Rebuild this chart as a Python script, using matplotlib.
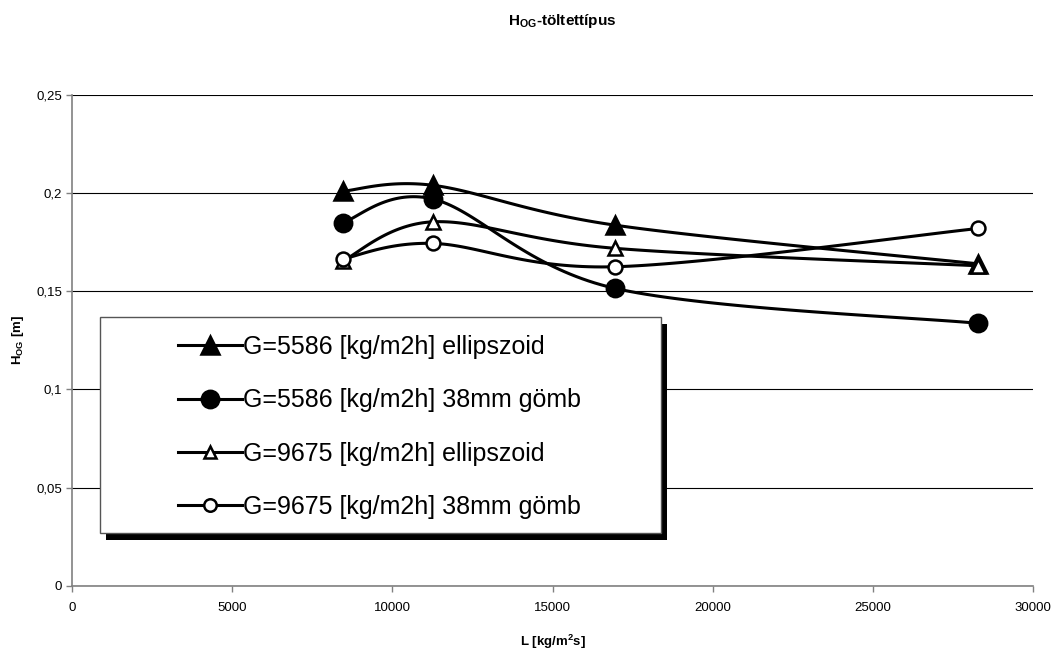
import numpy as np
import matplotlib
matplotlib.use('Agg')
import matplotlib.pyplot as plt
from matplotlib.patches import Rectangle

plt.rcParams['font.family'] = ['Liberation Sans', 'DejaVu Sans']
plt.rcParams['mathtext.fontset'] = 'custom'
plt.rcParams['mathtext.rm'] = 'Liberation Sans'
plt.rcParams['mathtext.bf'] = 'Liberation Sans:bold'

# ── data ─────────────────────────────────────────────────────────────────────
L_vals = [8450, 11270, 16950, 28280]
h_5586_ell = [0.201, 0.204, 0.1837, 0.164]
h_5586_gomb = [0.185, 0.197, 0.1515, 0.1337]
h_9675_ell = [0.1655, 0.1854, 0.1719, 0.163]
h_9675_gomb = [0.1665, 0.1744, 0.1625, 0.182]

labels = ['G=5586 [kg/m2h] ellipszoid', 'G=5586 [kg/m2h] 38mm gömb',
          'G=9675 [kg/m2h] ellipszoid', 'G=9675 [kg/m2h] 38mm gömb']
y_ticks = [0, 0.05, 0.1, 0.15, 0.2, 0.25]
y_ticklabels = ['0', '0,05', '0,1', '0,15', '0,2', '0,25']
x_ticks = [0, 5000, 10000, 15000, 20000, 25000, 30000]


def smooth(x, y, n=40):
    # Excel-style smoothed line (Catmull-Rom Bezier)
    p = np.column_stack([x, y]).astype(float)
    pts = np.vstack([p[0], p, p[-1]])
    out = []
    t = np.linspace(0, 1, n)[:, None]
    for i in range(1, len(pts) - 2):
        p0, p1, p2, p3 = pts[i - 1], pts[i], pts[i + 1], pts[i + 2]
        b1 = p1 + (p2 - p0) / 6
        b2 = p2 - (p3 - p1) / 6
        seg = ((1 - t) ** 3) * p1 + 3 * ((1 - t) ** 2) * t * b1 \
            + 3 * (1 - t) * t ** 2 * b2 + t ** 3 * p2
        out.append(seg if i == 1 else seg[1:])
    s = np.vstack(out)
    return s[:, 0], s[:, 1]


fig = plt.figure(figsize=(10.55, 6.49), dpi=100)
ax = fig.add_axes([0.06825, 0.0975, 0.9109, 0.7561])

series = [
    (h_5586_ell, '^', 'black'),
    (h_5586_gomb, 'o', 'black'),
    (h_9675_ell, '^', 'white'),
    (h_9675_gomb, 'o', 'white'),
]
handles = []
for (vals, mk, fc), lab in zip(series, labels):
    sx, sy = smooth(L_vals, vals)
    ax.plot(sx, sy, color='black', lw=2.2, zorder=3, solid_capstyle='round')
    ms = 12.5 if fc == 'black' else 10
    ax.plot(L_vals, vals, linestyle='none', marker=mk, markersize=ms,
            markerfacecolor=fc, markeredgecolor='black', markeredgewidth=1.8,
            zorder=4)
    h, = ax.plot([], [], color='black', lw=2.2, marker=mk,
                 markersize=ms if fc == 'black' else 9,
                 markerfacecolor=fc, markeredgecolor='black',
                 markeredgewidth=1.8, label=lab)
    handles.append(h)

ax.set_xlim(0, 30000)
ax.set_ylim(0, 0.25)
ax.set_xticks(x_ticks)
ax.set_xticklabels([str(v) for v in x_ticks])
ax.set_yticks(y_ticks)
ax.set_yticklabels(y_ticklabels)
ax.tick_params(axis='both', labelsize=9.5, direction='out', length=4,
               color='#808080', width=1)
ax.tick_params(axis='y', pad=3)
ax.tick_params(axis='x', pad=8)
ax.grid(axis='y', color='black', lw=0.8)
ax.set_axisbelow(True)
for side in ['top', 'right']:
    ax.spines[side].set_visible(False)
for side in ['left', 'bottom']:
    ax.spines[side].set_color('#808080')
    ax.spines[side].set_linewidth(1.2)

ax.set_xlabel(r'L [kg/m$^{\mathbf{2}}$s]', fontsize=9.5, fontweight='bold')
ax.xaxis.set_label_coords(0.5, -0.095)
ax.set_ylabel(r'H$_{\mathbf{OG}}$ [m]', fontsize=9.5, fontweight='bold')
ax.yaxis.set_label_coords(-0.048, 0.5)

fig.text(562 / 1055, 1 - 21 / 649, r'H$_{\mathbf{OG}}$-töltettípus',
         ha='center', va='center', fontsize=11, fontweight='bold')

# legend box with solid black shadow
W, H = 1055, 649
x0, y0, x1, y1 = 100, 317, 661, 533
ax.add_patch(Rectangle(((x0 + 6) / W, 1 - (y1 + 7) / H), (x1 - x0) / W, (y1 - y0) / H,
                       transform=fig.transFigure, facecolor='black',
                       edgecolor='none', zorder=6, clip_on=False))
ax.add_patch(Rectangle((x0 / W, 1 - y1 / H), (x1 - x0) / W, (y1 - y0) / H,
                       transform=fig.transFigure, facecolor='white',
                       edgecolor='#555555', lw=1, zorder=7, clip_on=False))
leg = ax.legend(handles=handles, loc='upper left',
                bbox_to_anchor=(178 / W, 1 - 335 / H),
                bbox_transform=fig.transFigure, frameon=False, fontsize=18,
                handlelength=2.55, handletextpad=0.05, labelspacing=1.17,
                borderpad=0, borderaxespad=0)
leg.set_zorder(8)

fig.savefig('out.png', dpi=100)
